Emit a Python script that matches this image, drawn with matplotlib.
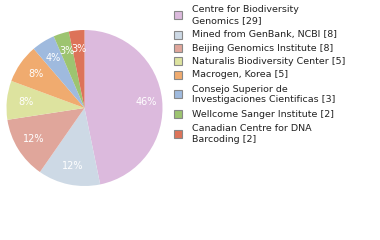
import matplotlib
matplotlib.use("Agg")
import matplotlib.pyplot as plt
from matplotlib.patches import Rectangle
import numpy as np

labels = ["Centre for Biodiversity\nGenomics [29]",
          "Mined from GenBank, NCBI [8]",
          "Beijing Genomics Institute [8]",
          "Naturalis Biodiversity Center [5]",
          "Macrogen, Korea [5]",
          "Consejo Superior de\nInvestigaciones Cientificas [3]",
          "Wellcome Sanger Institute [2]",
          "Canadian Centre for DNA\nBarcoding [2]"]
counts = [29, 8, 8, 5, 5, 3, 2, 2]
colors = ["#dcbadd", "#cdd9e5", "#e0a69b", "#dde39f",
          "#f0ab6f", "#9fbade", "#9dc470", "#dd7359"]

W, H = 380, 240
fig = plt.figure(figsize=(3.8, 2.4), dpi=100)

# pie: center (84.5, 108), radius 78 px
cx, cy, r = 84.5, 108, 78
ax = fig.add_axes([(cx - r) / W, 1 - (cy + r) / H, 2 * r / W, 2 * r / H])
total = sum(counts)
wedges, _ = ax.pie(counts, colors=colors, startangle=90, counterclock=False,
                   wedgeprops=dict(linewidth=0))
for w, c in zip(wedges, counts):
    ang = np.deg2rad((w.theta1 + w.theta2) / 2)
    pct = int(100 * c / total)
    d = 0.8 if pct > 40 else 0.76
    ax.text(d * np.cos(ang), d * np.sin(ang), f"{pct}%", color="white",
            ha="center", va="center", fontsize=7)
ax.set_xlim(-1, 1)
ax.set_ylim(-1, 1)
ax.set_aspect("equal")
ax.axis("off")

# legend drawn by hand
y = 2.0
step = 13.2
for lab, col in zip(labels, colors):
    n = lab.count("\n") + 1
    yc = y + step * n / 2
    fig.patches.append(Rectangle((174 / W, 1 - (yc + 4) / H), 8 / W, 8 / H,
                                 transform=fig.transFigure, facecolor=col,
                                 edgecolor="#888888", linewidth=0.8))
    fig.text(192 / W, 1 - yc / H, lab, ha="left", va="center",
             fontsize=6.8, color="#222222", linespacing=1.25)
    y += step * n

fig.savefig("out.png", dpi=100)
